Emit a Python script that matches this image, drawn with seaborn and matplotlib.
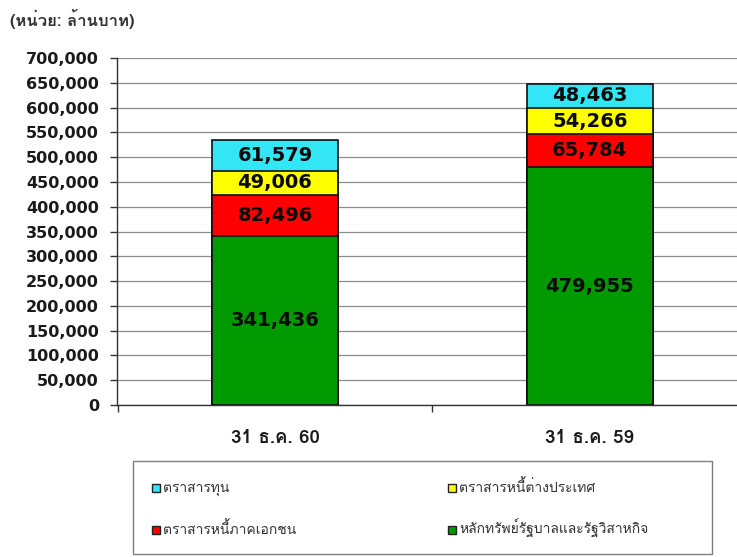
import matplotlib
matplotlib.use("Agg")
import matplotlib.pyplot as plt
from matplotlib import font_manager
from matplotlib.ft2font import FT2Font
from matplotlib.patches import Rectangle
from matplotlib.ticker import FuncFormatter, MultipleLocator, FixedLocator
import numpy as np
import seaborn as sns

# Portfolio composition (million baht) at two year-end dates
dates = ["31 ธ.ค. 60", "31 ธ.ค. 59"]
series_names = [
    "หลักทรัพย์รัฐบาลและรัฐวิสาหกิจ",
    "ตราสารหนี้ภาคเอกชน",
    "ตราสารหนี้ต่างประเทศ",
    "ตราสารทุน",
]
gov_bonds = [341436, 479955]
corp_bonds = [82496, 65784]
foreign_bonds = [49006, 54266]
equities = [61579, 48463]
series_colors = ["#009A00", "#FF0000", "#FFFF00", "#33E6F5"]
title_text = "(หน่วย: ล้านบาท)"


def find_thai_family():
    seen = set()
    for entry in font_manager.fontManager.ttflist:
        if entry.fname in seen:
            continue
        seen.add(entry.fname)
        try:
            cmap = FT2Font(entry.fname).get_charmap()
        except Exception:
            continue
        if 0x0E01 in cmap and 0x0E2A in cmap:
            return entry.name
    return None


sns.set_style("ticks")
thai = find_thai_family()
families = [thai, "DejaVu Sans"] if thai else ["DejaVu Sans"]
plt.rcParams["font.family"] = families

W, H = 737, 557
fig = plt.figure(figsize=(W / 100, H / 100), dpi=100)
ax = fig.add_axes([117 / W, 1 - 405 / H, 1 - 117 / W, (405 - 58) / H])

layers = [gov_bonds, corp_bonds, foreign_bonds, equities]
cumulative = np.cumsum(np.array(layers), axis=0)

# Draw stacked segments as overlapping cumulative bars, tallest first
for level in range(len(layers) - 1, -1, -1):
    sns.barplot(x=dates, y=cumulative[level], order=dates, color=series_colors[level],
                saturation=1, width=0.40, edgecolor="#111111", linewidth=1.2, ax=ax,
                zorder=3)

# Value labels centred inside each segment
for level, values in enumerate(layers):
    for i, v in enumerate(values):
        base = cumulative[level][i] - v
        ax.text(i, base + v / 2, f"{v:,}", ha="center", va="center",
                fontsize=14, fontweight="bold", color="#0a0a0a",
                family=["DejaVu Sans"], zorder=5)

ax.set_xlim(-0.5016, 1.467)
ax.set_ylim(0, 700000)
ax.yaxis.set_major_locator(MultipleLocator(50000))
ax.yaxis.set_major_formatter(FuncFormatter(lambda v, _: f"{int(v):,}"))
ax.grid(axis="y", color="#8c8c8c", linewidth=0.9, zorder=0)
ax.set_axisbelow(True)

for side in ("top", "right"):
    ax.spines[side].set_visible(False)
for side in ("left", "bottom"):
    ax.spines[side].set_color("#333333")
    ax.spines[side].set_linewidth(1.0)

ax.tick_params(axis="y", direction="out", length=5, width=1, color="#333333",
               pad=8, labelsize=11.5, labelcolor="#1a1a1a")
for lab in ax.get_yticklabels():
    lab.set_fontweight("bold")
    lab.set_family(["DejaVu Sans"])

ax.tick_params(axis="x", which="major", length=0, pad=17, labelsize=13.5,
               labelcolor="#1a1a1a")
ax.xaxis.set_minor_locator(FixedLocator([-0.5, 0.5]))
ax.tick_params(axis="x", which="minor", direction="out", length=5, width=1,
               color="#333333")
for lab in ax.get_xticklabels():
    lab.set_fontweight("bold")
ax.set_xlabel("")
ax.set_ylabel("")

fig.text(10 / W, 1 - 19 / H, title_text, ha="left", va="center", fontsize=12,
         fontweight="bold", color="#333333")

# Legend box: two columns (cyan/red, then yellow/green), rows on a shared baseline
fig.add_artist(Rectangle((133 / W, 3 / H), (712 - 133) / W, (555 - 462) / H,
                         transform=fig.transFigure, facecolor="white",
                         edgecolor="#7f7f7f", linewidth=1.0, zorder=1))
entries = [(3, 152, 488), (1, 152, 530), (2, 448, 488), (0, 448, 530)]
for k, x0, yc in entries:
    fig.add_artist(Rectangle((x0 / W, 1 - (yc + 4) / H), 8 / W, 8 / H,
                             transform=fig.transFigure, facecolor=series_colors[k],
                             edgecolor="#222222", linewidth=1.0, zorder=2))
    fig.text((x0 + 11) / W, 1 - (yc + 4) / H, series_names[k], ha="left",
             va="baseline", fontsize=10, color="#333333", zorder=2)

fig.savefig("out.png", dpi=100, facecolor="white")
